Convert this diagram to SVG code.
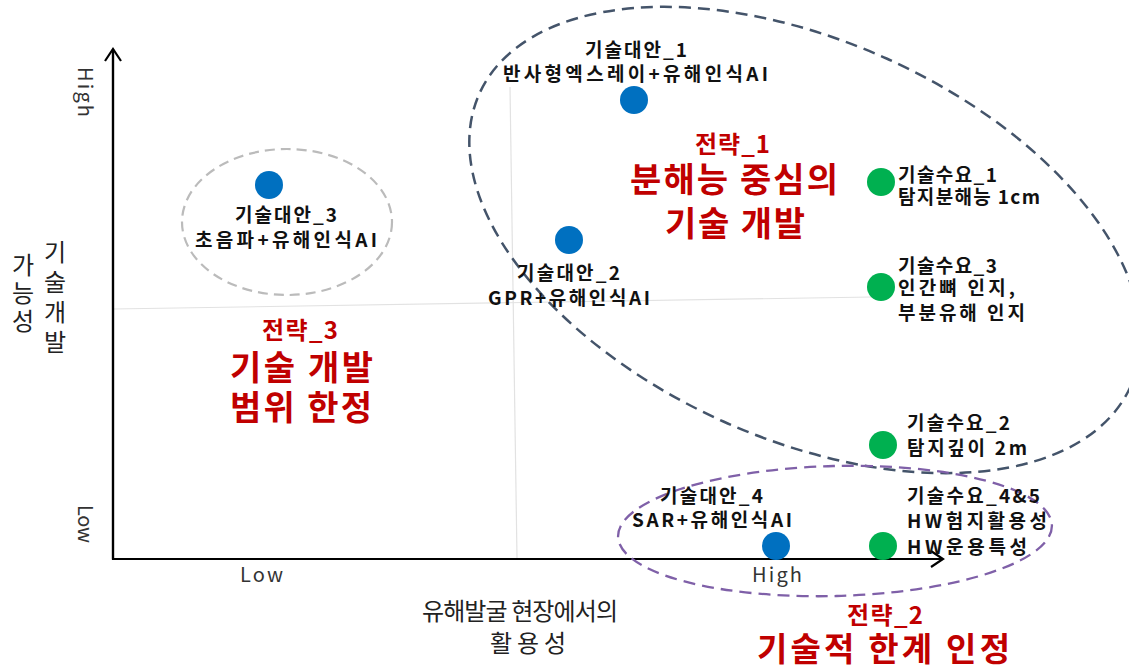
<svg xmlns="http://www.w3.org/2000/svg" width="1129" height="670" viewBox="0 0 1129 670">
<style>
text{font-family:"Noto Sans CJK KR","Noto Sans",sans-serif}
.lbl{font-size:19px;font-weight:bold;fill:#111}
.red{fill:#C00000;font-weight:bold}
.rs{font-size:24px}
.rb{font-size:34px}
.ax{font-size:20px;fill:#333}
.yt{font-size:24px;fill:#222;text-anchor:middle}
.xt{font-size:24px;fill:#222;text-anchor:middle}
.blue{fill:#0070C0}
.green{fill:#00B050}
.grid{stroke:#E2E2E2;stroke-width:1.2;fill:none}
.axis{stroke:#000;stroke-width:2.2;fill:none}
.navy{fill:none;stroke:#44546A;stroke-width:2.5;stroke-dasharray:12 7}
.gray{fill:none;stroke:#BBBBBB;stroke-width:2.2;stroke-dasharray:10 6}
.purple{fill:none;stroke:#7F60A8;stroke-width:2.3;stroke-dasharray:12 7}
</style>
<defs>
<marker id="arr" markerWidth="16" markerHeight="18" refX="13" refY="9" orient="auto" markerUnits="userSpaceOnUse">
<path d="M1,1 L13,9 L1,17" fill="none" stroke="#000" stroke-width="2.2"/>
</marker>
</defs>
<rect width="1129" height="670" fill="#fff"/>

<g id="grid">
<line class="grid" x1="510" y1="87" x2="517" y2="558"/>
<line class="grid" x1="113" y1="309" x2="872" y2="297"/>
</g>

<g id="connectors">
<polyline class="axis" points="113,50 113,559 943,559" marker-end="url(#arr)"/>
<line class="axis" x1="113" y1="559" x2="113" y2="49" marker-end="url(#arr)"/>
</g>

<g id="axis-labels">
<text class="ax" transform="translate(78,67) rotate(90)" textLength="50">High</text>
<text class="ax" transform="translate(78,505) rotate(90)" textLength="38">Low</text>
<text class="ax" x="240" y="582" textLength="43">Low</text>
<text class="ax" x="752" y="582" textLength="50">High</text>
<text class="yt" x="55"><tspan x="55" y="261">기</tspan><tspan x="55" y="291">술</tspan><tspan x="55" y="321">개</tspan><tspan x="55" y="351">발</tspan></text>
<text class="yt" x="23"><tspan x="23" y="274">가</tspan><tspan x="23" y="302">능</tspan><tspan x="23" y="330">성</tspan></text>
<text class="xt" x="520" y="620" textLength="196">유해발굴 현장에서의</text>
<text class="xt" x="528" y="652" textLength="76">활용성</text>
</g>

<g id="strategy-1">
<ellipse class="navy" cx="805" cy="240" rx="357" ry="199" transform="rotate(24.2 805 240)"/>
<text class="red rs" x="695" y="153" textLength="75">전략_1</text>
<text class="red rb" x="630" y="192" textLength="208">분해능 중심의</text>
<text class="red rb" x="665" y="236" textLength="140">기술 개발</text>
</g>

<g id="strategy-3">
<ellipse class="gray" cx="287" cy="222" rx="105" ry="73"/>
<text class="red rs" x="262" y="339" textLength="76">전략_3</text>
<text class="red rb" x="230" y="380" textLength="143">기술 개발</text>
<text class="red rb" x="230" y="420" textLength="142">범위 한정</text>
</g>

<g id="strategy-2">
<ellipse class="purple" cx="835" cy="531" rx="217" ry="65" transform="rotate(-1.5 835 531)"/>
<text class="red rs" x="847" y="624" textLength="76">전략_2</text>
<text class="red" x="757" y="661" font-size="33" textLength="253">기술적 한계 인정</text>
</g>

<g id="alt-1">
<circle class="blue" cx="634" cy="100" r="14"/>
<text class="lbl" x="585" y="57" textLength="102">기술대안_1</text>
<text class="lbl" x="503" y="81" textLength="265">반사형엑스레이+유해인식AI</text>
</g>

<g id="alt-3">
<circle class="blue" cx="269" cy="185" r="14"/>
<text class="lbl" x="235" y="222" textLength="102">기술대안_3</text>
<text class="lbl" x="195" y="247" textLength="182">초음파+유해인식AI</text>
</g>

<g id="alt-2">
<circle class="blue" cx="569" cy="240" r="14"/>
<text class="lbl" x="517" y="280" textLength="103">기술대안_2</text>
<text class="lbl" x="488" y="305" textLength="162">GPR+유해인식AI</text>
</g>

<g id="alt-4">
<circle class="blue" cx="776" cy="546" r="14"/>
<text class="lbl" x="660" y="503" textLength="103">기술대안_4</text>
<text class="lbl" x="632" y="527" textLength="160">SAR+유해인식AI</text>
</g>

<g id="need-1">
<circle class="green" cx="881" cy="182" r="14"/>
<text class="lbl" x="898" y="182" textLength="99">기술수요_1</text>
<text class="lbl" x="898" y="204" textLength="142">탐지분해능 1cm</text>
</g>

<g id="need-3">
<circle class="green" cx="881" cy="287" r="14"/>
<text class="lbl" x="898" y="273" textLength="99">기술수요_3</text>
<text class="lbl" x="898" y="295" textLength="117">인간뼈 인지,</text>
<text class="lbl" x="898" y="320" textLength="127">부분유해 인지</text>
</g>

<g id="need-2">
<circle class="green" cx="883" cy="445" r="14"/>
<text class="lbl" x="907" y="430" textLength="103">기술수요_2</text>
<text class="lbl" x="907" y="455" textLength="120">탐지깊이 2m</text>
</g>

<g id="need-45">
<circle class="green" cx="883" cy="546" r="14"/>
<text class="lbl" x="907" y="503" textLength="133">기술수요_4&amp;5</text>
<text class="lbl" x="907" y="528" textLength="140">HW험지활용성</text>
<text class="lbl" x="907" y="554" textLength="120">HW운용특성</text>
</g>
</svg>
